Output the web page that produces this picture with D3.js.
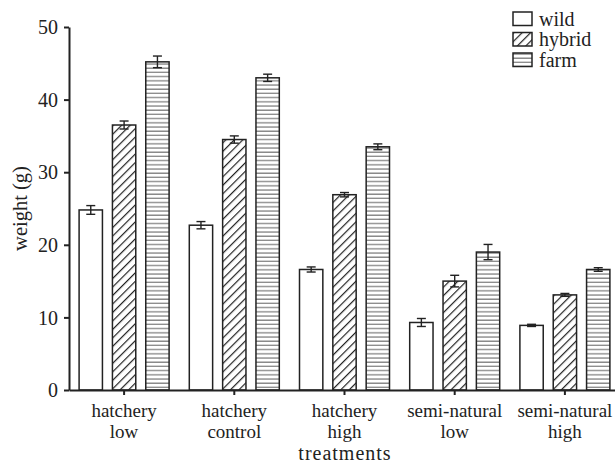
<!DOCTYPE html>
<html>
<head>
<meta charset="utf-8">
<script src="https://cdn.jsdelivr.net/npm/d3@7"></script>
<style>
  html, body { margin: 0; padding: 0; background: #fff; }
  svg text { font-family: "Liberation Serif", "Times New Roman", serif; fill: #222; }
</style>
</head>
<body>
<svg id="chart" width="615" height="464"></svg>
<script>
// Treatment groups, each drawn as a two-line axis label
const treatments = ["hatchery low", "hatchery control", "hatchery high", "semi-natural low", "semi-natural high"];
const treatmentLines = [["hatchery", "low"], ["hatchery", "control"], ["hatchery", "high"], ["semi-natural", "low"], ["semi-natural", "high"]];
const strains = ["wild", "hybrid", "farm"];

// Mean weight (g) per treatment, one array per strain
const wildMeans   = [24.8, 22.7, 16.6, 9.3, 8.9];
const hybridMeans = [36.5, 34.5, 26.9, 15.0, 13.1];
const farmMeans   = [45.2, 43.0, 33.5, 19.0, 16.6];

// Standard error per treatment
const wildErr   = [0.6, 0.5, 0.35, 0.55, 0.15];
const hybridErr = [0.55, 0.5, 0.3, 0.8, 0.2];
const farmErr   = [0.8, 0.5, 0.4, 1.05, 0.25];

const yTicks = [0, 10, 20, 30, 40, 50];

const means = { wild: wildMeans, hybrid: hybridMeans, farm: farmMeans };
const errs  = { wild: wildErr, hybrid: hybridErr, farm: farmErr };

const svg = d3.select("#chart");
const ink = "#222";

const margin = { left: 69, right: -5, top: 27, bottom: 74 };
const W = 615, H = 464;

const x = d3.scaleBand().domain(treatments).range([margin.left, W - margin.right]).paddingInner(0).paddingOuter(0);
const xs = d3.scaleBand().domain(strains).range([-45, 45]).paddingInner(0.3).paddingOuter(0);
const y = d3.scaleLinear().domain([0, 50]).range([H - margin.bottom, margin.top]);

// Fill patterns
const defs = svg.append("defs");
const hatch = defs.append("pattern").attr("id", "hatch").attr("patternUnits", "userSpaceOnUse")
  .attr("width", 6).attr("height", 6).attr("patternTransform", "rotate(45)");
hatch.append("rect").attr("width", 6).attr("height", 6).attr("fill", "#fff");
hatch.append("line").attr("x1", 0).attr("y1", 0).attr("x2", 0).attr("y2", 6)
  .attr("stroke", ink).attr("stroke-width", 2.4);

const stripes = defs.append("pattern").attr("id", "stripes").attr("patternUnits", "userSpaceOnUse")
  .attr("width", 8).attr("height", 4.2);
stripes.append("rect").attr("width", 8).attr("height", 4.2).attr("fill", "#fff");
stripes.append("line").attr("x1", 0).attr("y1", 1).attr("x2", 8).attr("y2", 1)
  .attr("stroke", "#777").attr("stroke-width", 1.2);

const fills = { wild: "#fff", hybrid: "url(#hatch)", farm: "url(#stripes)" };

// Bars
const rows = [];
treatments.forEach((t, i) => strains.forEach(s => rows.push({ t, s, v: means[s][i], e: errs[s][i] })));

const cx = d => x(d.t) + x.bandwidth() / 2;

svg.append("g").selectAll("rect").data(rows).join("rect")
  .attr("x", d => cx(d) + xs(d.s))
  .attr("width", xs.bandwidth())
  .attr("y", d => y(d.v))
  .attr("height", d => y(0) - y(d.v))
  .attr("fill", d => fills[d.s])
  .attr("stroke", ink).attr("stroke-width", 1.5);

// Error bars
const eb = svg.append("g").attr("stroke", ink).attr("stroke-width", 1.4);
rows.forEach(d => {
  const mx = cx(d) + xs(d.s) + xs.bandwidth() / 2;
  const y1 = y(d.v + d.e), y2 = y(d.v - d.e);
  eb.append("line").attr("x1", mx).attr("x2", mx).attr("y1", y1).attr("y2", y2);
  eb.append("line").attr("x1", mx - 4.5).attr("x2", mx + 4.5).attr("y1", y1).attr("y2", y1);
  eb.append("line").attr("x1", mx - 4.5).attr("x2", mx + 4.5).attr("y1", y2).attr("y2", y2);
});

// Y axis
const yAxis = svg.append("g").attr("transform", `translate(${margin.left},0)`)
  .call(d3.axisLeft(y).tickValues(yTicks).tickSize(5).tickPadding(6).tickSizeOuter(0));
yAxis.select(".domain").attr("stroke", ink).attr("stroke-width", 2);
yAxis.selectAll(".tick line").attr("stroke", ink).attr("stroke-width", 2);
yAxis.selectAll(".tick text").attr("font-size", 20).attr("dy", "0.33em").attr("fill", ink);

// X axis
const xAxis = svg.append("g").attr("transform", `translate(0,${y(0)})`)
  .call(d3.axisBottom(x).tickSize(5).tickSizeOuter(0).tickFormat(""));
xAxis.select(".domain").attr("stroke", ink).attr("stroke-width", 2);
xAxis.selectAll(".tick line").attr("stroke", ink).attr("stroke-width", 2);

// Category labels: one text per line
const labels = svg.append("g").attr("font-size", 19).attr("text-anchor", "middle");
treatments.forEach((t, i) => {
  treatmentLines[i].forEach((ln, j) => {
    labels.append("text").attr("x", x(t) + x.bandwidth() / 2)
      .attr("y", y(0) + 26.5 + j * 21.2).text(ln);
  });
});

// Axis titles
svg.append("text").attr("x", 345).attr("y", 459.6).attr("text-anchor", "middle")
  .attr("font-size", 20).attr("letter-spacing", 1).text("treatments");
svg.append("text").attr("transform", `translate(27,${(y(0) + y(50)) / 2}) rotate(-90)`)
  .attr("text-anchor", "middle").attr("font-size", 20.5).text("weight (g)");

// Legend
const lg = svg.append("g").attr("transform", "translate(513,12)");
strains.forEach((s, i) => {
  const g = lg.append("g").attr("transform", `translate(0,${i * 20.5})`);
  g.append("rect").attr("width", 19).attr("height", 13.5).attr("fill", fills[s])
    .attr("stroke", ink).attr("stroke-width", 1.5);
  g.append("text").attr("x", 26).attr("y", 13.5).attr("font-size", 20).text(s);
});
</script>
</body>
</html>
